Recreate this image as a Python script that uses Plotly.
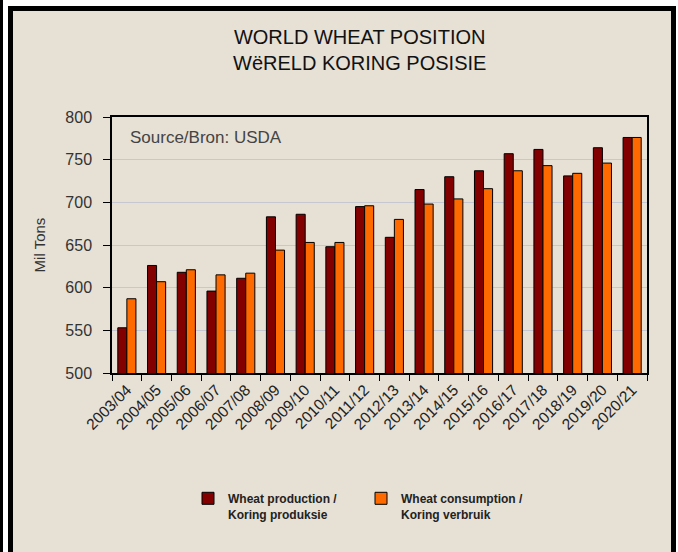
import plotly.graph_objects as go

seasons = ["2003/04", "2004/05", "2005/06", "2006/07", "2007/08", "2008/09",
           "2009/10", "2010/11", "2011/12", "2012/13", "2013/14", "2014/15",
           "2015/16", "2016/17", "2017/18", "2018/19", "2019/20", "2020/21"]
production = [553, 626, 618, 596, 611, 683, 686, 648, 695, 659, 715, 730,
              737, 757, 762, 731, 764, 776]
consumption = [587, 607, 621, 615, 617, 644, 653, 653, 696, 680, 698, 704,
               716, 737, 743, 734, 746, 776]

W, H = 678, 552
L, R, T, B = 112, 31, 117, 179
pw, ph = W - L - R, H - T - B


def px(x):
    return (x - L) / pw


def py(y):
    return (H - B - y) / ph


BG = "#e6e0d5"
fig = go.Figure()
fig.add_trace(go.Bar(x=seasons, y=production,
                     name="<b>Wheat production /<br>Koring produksie</b>",
                     marker=dict(color="#820000", line=dict(color="#000000", width=1))))
fig.add_trace(go.Bar(x=seasons, y=consumption,
                     name="<b>Wheat consumption /<br>Koring verbruik</b>",
                     marker=dict(color="#ff6a00", line=dict(color="#000000", width=1))))

shapes = [
    dict(type="rect", xref="paper", yref="paper", x0=px(0), x1=px(W), y0=py(0), y1=py(6),
         fillcolor="white", line=dict(width=0), layer="above"),
    dict(type="rect", xref="paper", yref="paper", x0=px(3), x1=px(8), y0=py(0), y1=py(H),
         fillcolor="white", line=dict(width=0), layer="above"),
    dict(type="rect", xref="paper", yref="paper", x0=px(0), x1=px(3), y0=py(0), y1=py(H),
         fillcolor="black", line=dict(width=0), layer="above"),
    dict(type="rect", xref="paper", yref="paper", x0=px(8), x1=px(13), y0=py(6), y1=py(H),
         fillcolor="black", line=dict(width=0), layer="above"),
    dict(type="rect", xref="paper", yref="paper", x0=px(8), x1=px(W - 2), y0=py(6), y1=py(11),
         fillcolor="black", line=dict(width=0), layer="above"),
    dict(type="rect", xref="paper", yref="paper", x0=px(W - 7), x1=px(W - 2), y0=py(6), y1=py(H),
         fillcolor="black", line=dict(width=0), layer="above"),
    dict(type="rect", xref="paper", yref="paper", x0=px(W - 2), x1=px(W), y0=py(0), y1=py(H),
         fillcolor="white", line=dict(width=0), layer="above"),
]

fig.update_layout(
    width=W, height=H,
    margin=dict(l=L, r=R, t=T, b=B, autoexpand=False),
    paper_bgcolor=BG, plot_bgcolor=BG,
    font=dict(family="Liberation Sans, Arial, sans-serif", color="#333333"),
    barmode="group", bargap=0.39, bargroupgap=0.0,
    showlegend=True,
    legend=dict(orientation="h", x=px(188), xanchor="left", y=py(484), yanchor="top",
                font=dict(size=12, color="#222222"),
                valign="top", bgcolor="rgba(0,0,0,0)", entrywidth=128, itemwidth=30,
                tracegroupgap=0),
    shapes=shapes,
    annotations=[
        dict(text="WORLD WHEAT POSITION<br>WëRELD KORING POSISIE", xref="paper", yref="paper",
             x=px(359), y=py(24), xanchor="center", yanchor="top", showarrow=False,
             font=dict(size=20, color="#111111")),
        dict(text="Source/Bron: USDA", xref="paper", yref="paper",
             x=px(128), y=py(137), xanchor="left", yanchor="middle", showarrow=False,
             font=dict(size=17, color="#444444")),
    ],
    xaxis=dict(type="category", tickangle=-45, tickson="boundaries", ticks="outside",
               ticklen=6, tickcolor="black", showline=True, linecolor="black", linewidth=1.5,
               mirror=True, tickfont=dict(size=15.5, color="#222222"), showgrid=False,
               automargin=False),
    yaxis=dict(range=[500, 800], dtick=50, ticks="outside", ticklen=7, tickcolor="black",
               showline=True, linecolor="black", linewidth=1.5, mirror=True,
               gridcolor="#c5c8d0", gridwidth=1, zeroline=False, automargin=False,
               tickfont=dict(size=16, color="#333333"), ticklabelstandoff=8,
               title=dict(text="Mil Tons", font=dict(size=15, color="#333333"), standoff=16)),
)

fig.write_html("out.html", config={"displayModeBar": False},
               post_script="document.body.style.margin='0';document.body.style.overflow='hidden';")
